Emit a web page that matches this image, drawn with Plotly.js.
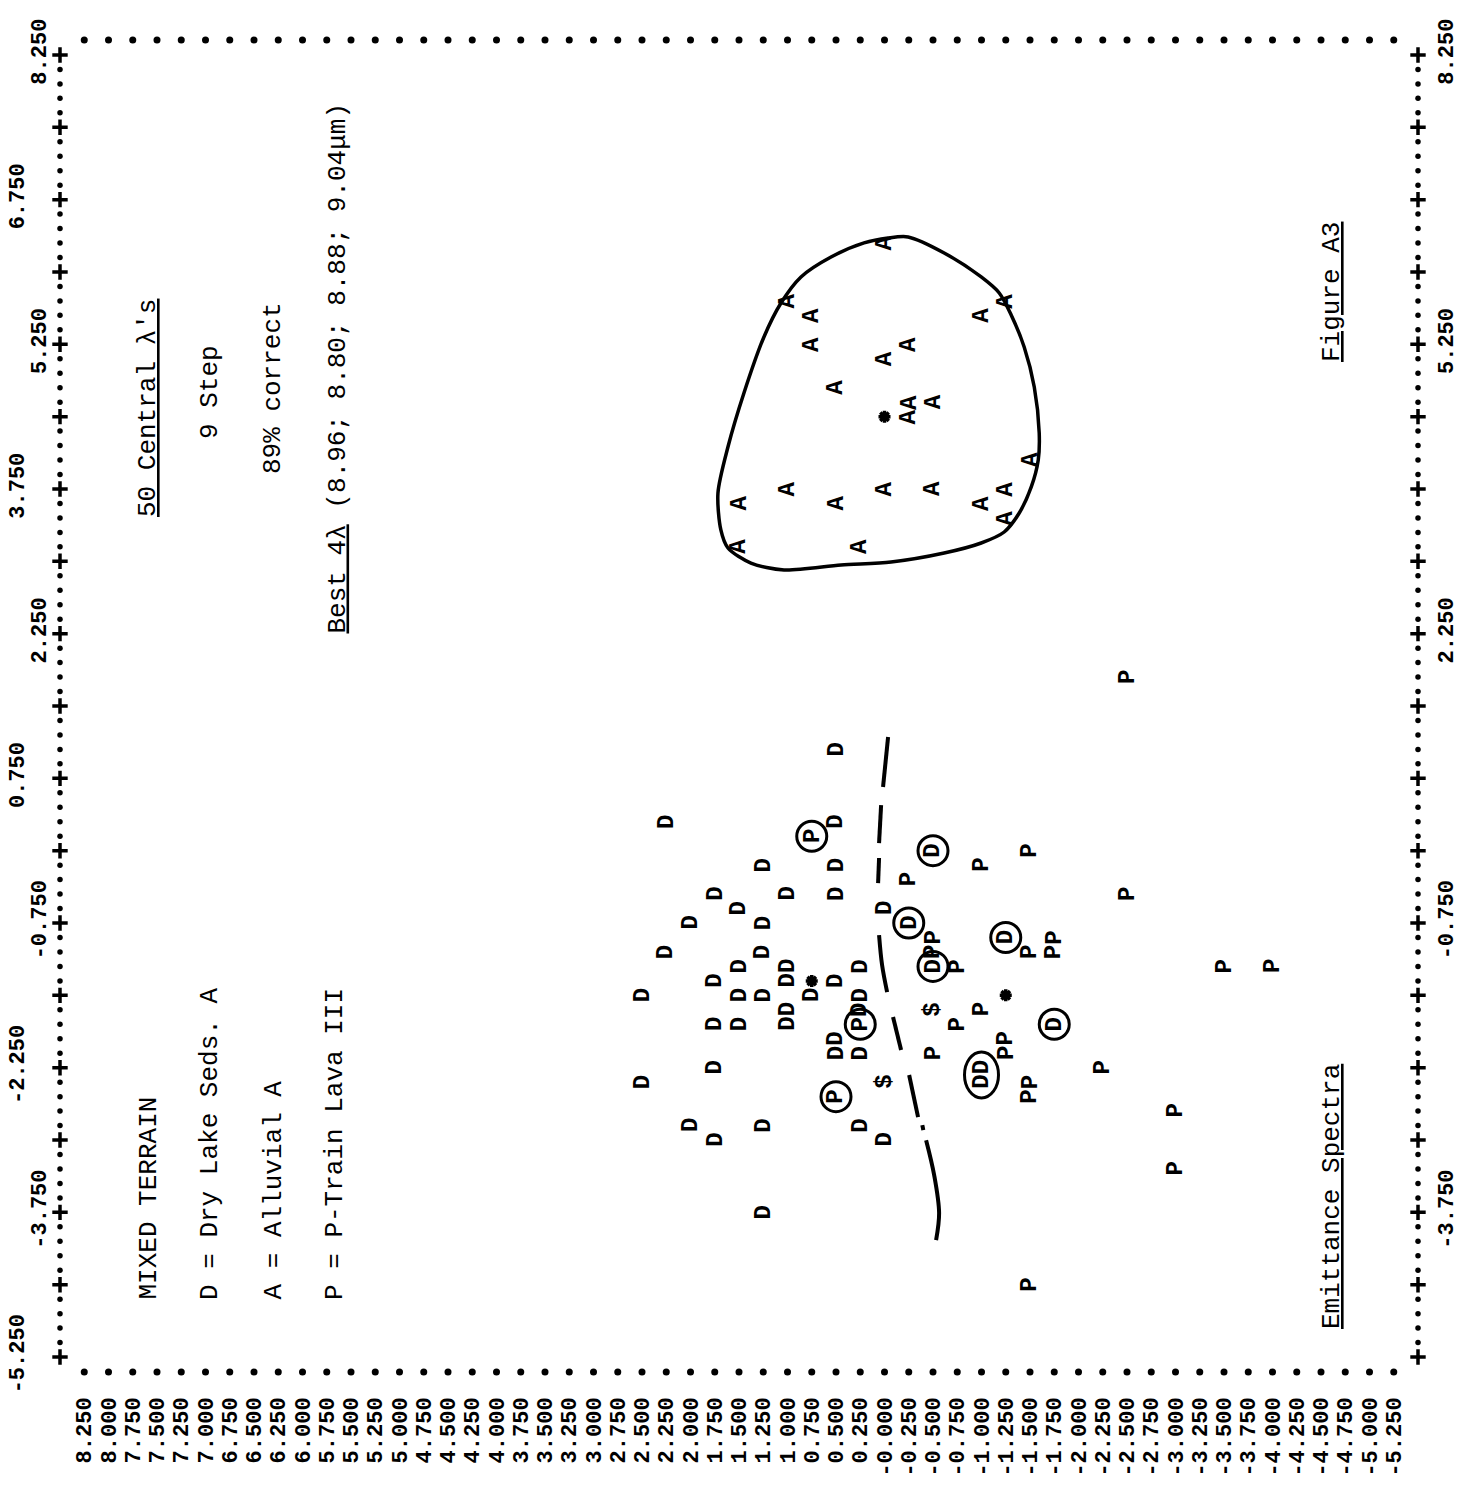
<!DOCTYPE html>
<html>
<head>
<meta charset="utf-8">
<script src="https://cdn.plot.ly/plotly-3.0.1.min.js"></script>
<style>html,body{margin:0;padding:0;background:#fff;}</style>
</head>
<body>
<div id="chart" style="width:1465px;height:1488px;"></div>
<script>
// ---- Axis ticks (printer-plot axes) ----
// horizontal direction of the page: printer lines, 8.250 ... -5.250
const lineTickVals = [8.25,8.0,7.75,7.5,7.25,7.0,6.75,6.5,6.25,6.0,5.75,5.5,5.25,5.0,4.75,4.5,4.25,4.0,3.75,3.5,3.25,3.0,2.75,2.5,2.25,2.0,1.75,1.5,1.25,1.0,0.75,0.5,0.25,0.0,-0.25,-0.5,-0.75,-1.0,-1.25,-1.5,-1.75,-2.0,-2.25,-2.5,-2.75,-3.0,-3.25,-3.5,-3.75,-4.0,-4.25,-4.5,-4.75,-5.0,-5.25];
const lineTickText = ["8.250","8.000","7.750","7.500","7.250","7.000","6.750","6.500","6.250","6.000","5.750","5.500","5.250","5.000","4.750","4.500","4.250","4.000","3.750","3.500","3.250","3.000","2.750","2.500","2.250","2.000","1.750","1.500","1.250","1.000","0.750","0.500","0.250","-0.000","-0.250","-0.500","-0.750","-1.000","-1.250","-1.500","-1.750","-2.000","-2.250","-2.500","-2.750","-3.000","-3.250","-3.500","-3.750","-4.000","-4.250","-4.500","-4.750","-5.000","-5.250"];
// vertical direction of the page: columns, -5.250 ... 8.250
const colInnerVals = [8.25,5.25,2.25,-0.75,-3.75];
const colInnerText = ["8.250","5.250","2.250","-0.750","-3.750"];
const colOuterVals = [6.75,3.75,0.75,-2.25,-5.25];
const colOuterText = ["6.750","3.750","0.750","-2.250","-5.250"];
const colRightVals = [-3.75,-0.75,2.25,5.25,8.25];
const colRightText = ["-3.750","-0.750","2.250","5.250","8.250"];

// ---- Data: [line value, column value] ----
// D = Dry Lake Seds. A
const dryLine = [0.5,2.25,0.5,1.25,0.5,1.75,1.0,0.5,1.5,0.0,2.0,1.25,2.25,1.25,1.5,1.0,0.25,1.75,1.0,0.5,2.5,1.5,1.25,0.75,0.25,1.0,0.25,1.75,1.5,1.0,0.5,0.5,0.25,1.75,2.5,2.0,1.25,0.25,1.75,0.0,1.25];
const dryCol  = [1.05,0.30,0.30,-0.15,-0.15,-0.45,-0.45,-0.45,-0.60,-0.60,-0.75,-0.75,-1.05,-1.05,-1.20,-1.20,-1.20,-1.35,-1.35,-1.35,-1.50,-1.50,-1.50,-1.50,-1.50,-1.65,-1.65,-1.80,-1.80,-1.80,-1.95,-2.10,-2.10,-2.25,-2.40,-2.85,-2.85,-2.85,-3.00,-3.00,-3.75];
// D points circled (misclassified)
const dryCircLine = [-0.5,-0.25,-0.5,-1.25,-1.75];
const dryCircCol  = [0.0,-0.75,-1.20,-0.90,-1.80];
// pair of D points enclosed together
const dryPairLine = [-1.0,-1.0];
const dryPairCol  = [-2.25,-2.40];

// A = Alluvial A
const alluLine = [0.0,1.0,-1.25,0.75,-1.0,0.75,-0.25,0.0,0.5,-0.25,-0.5,-0.25,-1.5,1.0,0.0,-0.5,-1.25,1.5,0.5,-1.0,-1.25,1.5,0.25];
const alluCol  = [6.30,5.70,5.70,5.55,5.55,5.25,5.25,5.10,4.80,4.65,4.65,4.50,4.05,3.75,3.75,3.75,3.75,3.60,3.60,3.60,3.45,3.15,3.15];

// P = P-Train Lava III
const ptrLine = [-0.25,-0.5,-0.5,-0.75,-0.75,-0.5,-2.5,-1.5,-1.0,-2.5,-1.5,-1.75,-1.75,-3.5,-4.0,-1.0,-1.25,-1.25,-1.5,-1.5,-2.25,-3.0,-3.0,-1.5];
const ptrCol  = [-0.30,-0.90,-1.05,-1.20,-1.80,-2.10,1.80,0.0,-0.15,-0.45,-1.05,-0.90,-1.05,-1.20,-1.20,-1.65,-1.95,-2.10,-2.40,-2.55,-2.25,-2.70,-3.30,-4.50];
// P points circled (misclassified)
const ptrCircLine = [0.75,0.25,0.5];
const ptrCircCol  = [0.15,-1.80,-2.55];
// overprinted points
const overLine = [-0.5,0.0];
const overCol  = [-1.65,-2.40];

// class centroids (*)
const centLine = [0.0,0.75,-1.25];
const centCol  = [4.50,-1.35,-1.50];

// hand-drawn closed boundary around A
const loopLine = [-0.037,-0.243,-0.615,-0.997,-1.183,-1.306,-1.440,-1.544,-1.595,-1.585,-1.513,-1.389,-1.234,-0.997,-0.615,-0.068,0.448,1.036,1.377,1.614,1.687,1.717,1.614,1.449,1.243,1.067,0.861,0.551,0.211,-0.037];
const loopCol  = [6.352,6.363,6.197,5.948,5.782,5.554,5.222,4.807,4.330,4.051,3.771,3.501,3.304,3.190,3.086,2.993,2.962,2.910,2.982,3.138,3.325,3.708,4.185,4.745,5.326,5.678,5.948,6.155,6.301,6.352];
// hand-drawn dashed boundary between D and P
const dashLine = [-0.037,0.015,null,0.035,0.056,null,0.056,0.066,null,0.056,0.025,-0.027,null,-0.088,-0.171,null,-0.254,-0.346,null,-0.39,-0.40,null,-0.429,-0.512,-0.563,-0.532];
const dashCol  = [1.178,0.660,null,0.473,0.079,null,-0.076,-0.336,null,-0.875,-1.186,-1.466,null,-1.725,-2.067,null,-2.326,-2.762,null,-2.845,-2.897,null,-3.001,-3.363,-3.757,-4.037];

// ---- build ----
const BLACK = '#000';
const MONO = 'Liberation Mono, DejaVu Sans Mono, monospace';
const tickFont = {family:MONO, size:22, color:BLACK, weight:'bold'};
const letterFont = {family:MONO, size:24, color:BLACK, weight:'bold'};
const typeFont = {family:MONO, size:26, color:BLACK};

const X_RANGE = [8.5, -5.5];
const Y_RANGE = [-5.405, 8.405];

const traces = [];
// frame: top/bottom rows of dots at each printer line
[Y_RANGE[1], Y_RANGE[0]].forEach(edge => {
  traces.push({x:lineTickVals, y:lineTickVals.map(()=>edge), mode:'markers', marker:{symbol:'circle', size:7, color:BLACK}, cliponaxis:false, hoverinfo:'skip'});
});
// frame: left/right columns ".....+....+"
const colDots = [], colPlus = [];
for (let i = 0; i <= 90; i++) {
  const v = Math.round((-5.25 + 0.15 * i) * 1000) / 1000;
  if (i % 5 === 0) colPlus.push(v); else colDots.push(v);
}
[X_RANGE[0], X_RANGE[1]].forEach(edge => {
  traces.push({x:colDots.map(()=>edge), y:colDots, mode:'markers', marker:{symbol:'circle', size:5.5, color:BLACK}, cliponaxis:false, hoverinfo:'skip'});
  traces.push({x:colPlus.map(()=>edge), y:colPlus, mode:'markers', marker:{symbol:'cross-thin-open', size:11, color:BLACK, line:{width:3.5, color:BLACK}}, cliponaxis:false, hoverinfo:'skip'});
});
// hand-drawn boundaries
traces.push({x:loopLine, y:loopCol, mode:'lines', line:{color:BLACK, width:3.5, shape:'spline', smoothing:0.8}, hoverinfo:'skip'});
traces.push({x:dashLine, y:dashCol, mode:'lines', connectgaps:false, line:{color:BLACK, width:4, shape:'spline'}, hoverinfo:'skip'});
// circles around misclassified points
traces.push({x:dryCircLine.concat(ptrCircLine), y:dryCircCol.concat(ptrCircCol), mode:'markers', marker:{symbol:'circle-open', size:30, color:BLACK, line:{width:3, color:BLACK}}, hoverinfo:'skip'});
// centroids
traces.push({x:centLine, y:centCol, mode:'markers', marker:{symbol:'asterisk-open', size:10, color:BLACK, line:{width:3.5, color:BLACK}}, hoverinfo:'skip'});
// dummy traces to bind extra axes
traces.push({x:[lineTickVals[0]], y:[colRightVals[0]], yaxis:'y2', mode:'markers', marker:{opacity:0}, hoverinfo:'skip'});
traces.push({x:[lineTickVals[0]], y:[colOuterVals[0]], yaxis:'y3', mode:'markers', marker:{opacity:0}, hoverinfo:'skip'});

// letters for points
const annotations = [];
function addLetters(lineArr, colArr, ch) {
  for (let i = 0; i < lineArr.length; i++) {
    annotations.push({x:lineArr[i], y:colArr[i], xref:'x', yref:'y', text:ch, showarrow:false, textangle:-90, font:letterFont, xanchor:'center', yanchor:'middle'});
  }
}
addLetters(dryLine, dryCol, 'D');
addLetters(dryCircLine, dryCircCol, 'D');
addLetters(dryPairLine, dryPairCol, 'D');
addLetters(alluLine, alluCol, 'A');
addLetters(ptrLine, ptrCol, 'P');
addLetters(ptrCircLine, ptrCircCol, 'P');
addLetters(overLine, overCol, '$');

// typed text on the sheet (paper coords from page pixels)
const px = x => (x - 60) / 1358;
const py = y => (1372 - y) / 1332;
function typed(text, x, y, yanchor) {
  annotations.push({xref:'paper', yref:'paper', x:px(x), y:py(y), text:text, showarrow:false, textangle:-90, font:typeFont, xanchor:'center', yanchor:yanchor || 'middle'});
}
typed('MIXED TERRAIN', 148, 1302, 'bottom');
typed('D = Dry Lake Seds. A', 210, 1302, 'bottom');
typed('A = Alluvial A', 273, 1302, 'bottom');
typed('P = P-Train Lava III', 335, 1302, 'bottom');
typed("<u>50 Central λ's</u>", 148, 408);
typed('9 Step', 210, 392);
typed('89% correct', 273, 388);
typed('<u>Best 4λ</u> (8.96; 8.80; 8.88; 9.04μm)', 337, 636, 'bottom');
typed('<u>Figure A3</u>', 1332, 292);
typed('<u>Emittance Spectra</u>', 1332, 1197);

// shape enclosing the D pair
const shapes = [{
  type:'circle', xref:'x', yref:'y', xsizemode:'pixel', ysizemode:'pixel',
  xanchor:dryPairLine[0], yanchor:(dryPairCol[0] + dryPairCol[1]) / 2,
  x0:-17, x1:17, y0:-23, y1:23, line:{color:BLACK, width:3}
}];

const baseY = {range:Y_RANGE, autorange:false, ticks:'', showgrid:false, zeroline:false, showline:false, tickangle:-90, tickfont:tickFont, fixedrange:true};
const layout = {
  width:1465, height:1488,
  margin:{l:60, r:47, t:40, b:116, pad:0},
  paper_bgcolor:'#fff', plot_bgcolor:'#fff',
  showlegend:false,
  xaxis:{range:X_RANGE, autorange:false, tickmode:'array', tickvals:lineTickVals, ticktext:lineTickText, tickangle:-90, ticks:'', showgrid:false, zeroline:false, showline:false, tickfont:tickFont, ticklabelstandoff:20, fixedrange:true},
  yaxis:Object.assign({}, baseY, {tickmode:'array', tickvals:colInnerVals, ticktext:colInnerText, side:'left', ticklabelstandoff:9}),
  yaxis3:Object.assign({}, baseY, {tickmode:'array', tickvals:colOuterVals, ticktext:colOuterText, side:'left', overlaying:'y', anchor:'x', ticklabelstandoff:31}),
  yaxis2:Object.assign({}, baseY, {tickmode:'array', tickvals:colRightVals, ticktext:colRightText, side:'right', overlaying:'y', anchor:'x', ticklabelstandoff:12}),
  annotations:annotations,
  shapes:shapes
};

Plotly.newPlot('chart', traces, layout, {displayModeBar:false, staticPlot:true});
</script>
</body>
</html>
